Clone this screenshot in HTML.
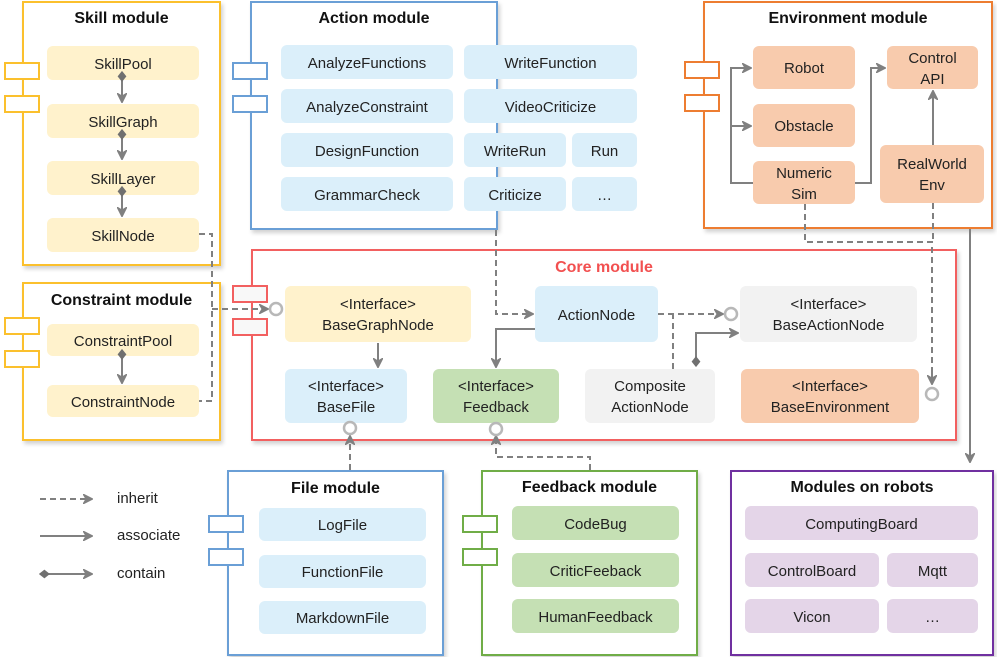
<!DOCTYPE html>
<html><head><meta charset="utf-8"><style>
body{margin:0;width:997px;height:657px;background:#fff;position:relative;overflow:hidden;font-family:"Liberation Sans",Arial,sans-serif;}
.m{position:absolute;background:#fff;border:2px solid;box-sizing:border-box;box-shadow:2px 3px 4px rgba(0,0,0,.18);}
.t{position:absolute;font-weight:bold;font-size:16px;text-align:center;color:#111;}
.n{position:absolute;border-radius:6px;display:flex;align-items:center;justify-content:center;text-align:center;font-size:15px;color:#222;line-height:21px;padding-top:2px;box-sizing:border-box;}
.p{position:absolute;width:36px;height:18px;background:#fff;border:2px solid;box-sizing:border-box;}
.y{background:#fff2cc}.b{background:#dbeffa}.o{background:#f8cbad}.g{background:#c5e0b4}.gr{background:#f2f2f2}.pu{background:#e4d5e8}
.lg{position:absolute;font-size:15px;color:#222}
svg{position:absolute;left:0;top:0}
</style></head><body>

<!-- Skill module -->
<div class="m" style="left:22px;top:1px;width:199px;height:265px;border-color:#fbc02d"></div>
<div class="t" style="left:22px;top:10px;width:199px">Skill module</div>
<div class="p" style="left:4px;top:62px;border-color:#fbc02d"></div>
<div class="p" style="left:4px;top:95px;border-color:#fbc02d"></div>
<div class="n y" style="left:47px;top:46px;width:152px;height:34px">SkillPool</div>
<div class="n y" style="left:47px;top:104px;width:152px;height:34px">SkillGraph</div>
<div class="n y" style="left:47px;top:161px;width:152px;height:34px">SkillLayer</div>
<div class="n y" style="left:47px;top:218px;width:152px;height:34px">SkillNode</div>

<!-- Constraint -->
<div class="m" style="left:22px;top:282px;width:199px;height:159px;border-color:#fbc02d"></div>
<div class="t" style="left:22px;top:292px;width:199px">Constraint module</div>
<div class="p" style="left:4px;top:317px;border-color:#fbc02d"></div>
<div class="p" style="left:4px;top:350px;border-color:#fbc02d"></div>
<div class="n y" style="left:47px;top:324px;width:152px;height:32px">ConstraintPool</div>
<div class="n y" style="left:47px;top:385px;width:152px;height:32px">ConstraintNode</div>

<!-- Action -->
<div class="m" style="left:250px;top:1px;width:248px;height:229px;border-color:#6a9fd6"></div>
<div class="t" style="left:250px;top:10px;width:248px">Action module</div>
<div class="p" style="left:232px;top:62px;border-color:#6a9fd6"></div>
<div class="p" style="left:232px;top:95px;border-color:#6a9fd6"></div>
<div class="n b" style="left:281px;top:45px;width:172px;height:34px">AnalyzeFunctions</div>
<div class="n b" style="left:281px;top:89px;width:172px;height:34px">AnalyzeConstraint</div>
<div class="n b" style="left:281px;top:133px;width:172px;height:34px">DesignFunction</div>
<div class="n b" style="left:281px;top:177px;width:172px;height:34px">GrammarCheck</div>
<div class="n b" style="left:464px;top:45px;width:173px;height:34px">WriteFunction</div>
<div class="n b" style="left:464px;top:89px;width:173px;height:34px">VideoCriticize</div>
<div class="n b" style="left:464px;top:133px;width:102px;height:34px">WriteRun</div>
<div class="n b" style="left:572px;top:133px;width:65px;height:34px">Run</div>
<div class="n b" style="left:464px;top:177px;width:102px;height:34px">Criticize</div>
<div class="n b" style="left:572px;top:177px;width:65px;height:34px">…</div>

<!-- Environment -->
<div class="m" style="left:703px;top:1px;width:290px;height:228px;border-color:#ed7d31"></div>
<div class="t" style="left:703px;top:10px;width:290px">Environment module</div>
<div class="p" style="left:684px;top:61px;border-color:#ed7d31"></div>
<div class="p" style="left:684px;top:94px;border-color:#ed7d31"></div>
<div class="n o" style="left:753px;top:46px;width:102px;height:43px">Robot</div>
<div class="n o" style="left:753px;top:104px;width:102px;height:43px">Obstacle</div>
<div class="n o" style="left:753px;top:161px;width:102px;height:43px">Numeric<br>Sim</div>
<div class="n o" style="left:887px;top:46px;width:91px;height:43px">Control<br>API</div>
<div class="n o" style="left:880px;top:145px;width:104px;height:58px">RealWorld<br>Env</div>

<!-- Core -->
<div class="m" style="left:251px;top:249px;width:706px;height:192px;border-color:#f26060"></div>
<div class="t" style="left:251px;top:259px;width:706px;color:#f25050">Core module</div>
<div class="p" style="left:232px;top:285px;border-color:#f26060;background:#f8f8f8"></div>
<div class="p" style="left:232px;top:318px;border-color:#f26060;background:#f8f8f8"></div>
<div class="n y" style="left:285px;top:286px;width:186px;height:56px">&lt;Interface&gt;<br>BaseGraphNode</div>
<div class="n b" style="left:285px;top:369px;width:122px;height:54px">&lt;Interface&gt;<br>BaseFile</div>
<div class="n g" style="left:433px;top:369px;width:126px;height:54px">&lt;Interface&gt;<br>Feedback</div>
<div class="n b" style="left:535px;top:286px;width:123px;height:56px">ActionNode</div>
<div class="n gr" style="left:740px;top:286px;width:177px;height:56px">&lt;Interface&gt;<br>BaseActionNode</div>
<div class="n gr" style="left:585px;top:369px;width:130px;height:54px">Composite<br>ActionNode</div>
<div class="n o" style="left:741px;top:369px;width:178px;height:54px">&lt;Interface&gt;<br>BaseEnvironment</div>

<!-- File -->
<div class="m" style="left:227px;top:470px;width:217px;height:186px;border-color:#6a9fd6"></div>
<div class="t" style="left:227px;top:480px;width:217px">File module</div>
<div class="p" style="left:208px;top:515px;border-color:#6a9fd6"></div>
<div class="p" style="left:208px;top:548px;border-color:#6a9fd6"></div>
<div class="n b" style="left:259px;top:508px;width:167px;height:33px">LogFile</div>
<div class="n b" style="left:259px;top:555px;width:167px;height:33px">FunctionFile</div>
<div class="n b" style="left:259px;top:601px;width:167px;height:33px">MarkdownFile</div>

<!-- Feedback -->
<div class="m" style="left:481px;top:470px;width:217px;height:186px;border-color:#70ad47"></div>
<div class="t" style="left:481px;top:479px;width:217px">Feedback module</div>
<div class="p" style="left:462px;top:515px;border-color:#70ad47"></div>
<div class="p" style="left:462px;top:548px;border-color:#70ad47"></div>
<div class="n g" style="left:512px;top:506px;width:167px;height:34px">CodeBug</div>
<div class="n g" style="left:512px;top:553px;width:167px;height:34px">CriticFeeback</div>
<div class="n g" style="left:512px;top:599px;width:167px;height:34px">HumanFeedback</div>

<!-- Robots -->
<div class="m" style="left:730px;top:470px;width:264px;height:186px;border-color:#7030a0"></div>
<div class="t" style="left:730px;top:479px;width:264px">Modules on robots</div>
<div class="n pu" style="left:745px;top:506px;width:233px;height:34px">ComputingBoard</div>
<div class="n pu" style="left:745px;top:553px;width:134px;height:34px">ControlBoard</div>
<div class="n pu" style="left:887px;top:553px;width:91px;height:34px">Mqtt</div>
<div class="n pu" style="left:745px;top:599px;width:134px;height:34px">Vicon</div>
<div class="n pu" style="left:887px;top:599px;width:91px;height:34px">…</div>

<div class="lg" style="left:117px;top:490px">inherit</div>
<div class="lg" style="left:117px;top:527px">associate</div>
<div class="lg" style="left:117px;top:565px">contain</div>

<svg width="997" height="657" viewBox="0 0 997 657">
<defs>
<marker id="a" viewBox="0 0 10 10" refX="9" refY="5" markerWidth="10" markerHeight="10" markerUnits="userSpaceOnUse" orient="auto"><path d="M0,0 L10,5 L0,10 L3,5z" fill="#808080" stroke="#808080" stroke-width="1"/></marker>
<marker id="d" viewBox="0 0 10 10" refX="1" refY="5" markerWidth="11" markerHeight="11" markerUnits="userSpaceOnUse" orient="auto"><path d="M0,5 L5,1 L10,5 L5,9z" fill="#707070"/></marker>
</defs>
<g stroke="#808080" stroke-width="2" fill="none">
<path d="M40,499 H92" stroke-dasharray="6,4" marker-end="url(#a)"/>
<path d="M40,536 H92" marker-end="url(#a)"/>
<path d="M40,574 H92" marker-start="url(#d)" marker-end="url(#a)"/>
<path d="M122,72 V102" marker-start="url(#d)" marker-end="url(#a)"/>
<path d="M122,130 V159" marker-start="url(#d)" marker-end="url(#a)"/>
<path d="M122,187 V216" marker-start="url(#d)" marker-end="url(#a)"/>
<path d="M122,350 V383" marker-start="url(#d)" marker-end="url(#a)"/>
<path d="M199,234 H212 V401 H199" stroke-dasharray="6,4"/>
<path d="M212,309 H268" stroke-dasharray="6,4" marker-end="url(#a)"/>
<path d="M378,343 V367" marker-end="url(#a)"/>
<path d="M496,230 V314 H533" stroke-dasharray="6,4" marker-end="url(#a)"/>
<path d="M535,329 H496 V367" marker-end="url(#a)"/>
<path d="M658,314 H723" stroke-dasharray="6,4" marker-end="url(#a)"/>
<path d="M673,369 V314" stroke-dasharray="6,4"/>
<path d="M696,366 V333 H738" marker-start="url(#d)" marker-end="url(#a)"/>
<path d="M753,183 H731 V68 H751" marker-end="url(#a)"/>
<path d="M731,126 H751" marker-end="url(#a)"/>
<path d="M855,183 H871 V68 H885" marker-end="url(#a)"/>
<path d="M933,145 V91" marker-end="url(#a)"/>
<path d="M805,204 V242 H932 V384" stroke-dasharray="6,4"/>
<path d="M932,370 V384" marker-end="url(#a)"/>
<path d="M933,203 V242" stroke-dasharray="6,4"/>
<path d="M970,229 V462" marker-end="url(#a)"/>
<path d="M350,470 V436" stroke-dasharray="6,4" marker-end="url(#a)"/>
<path d="M590,470 V457 H496 V436" stroke-dasharray="6,4" marker-end="url(#a)"/>
</g>
<g stroke="#b8b8b8" stroke-width="2.5" fill="#fff">
<circle cx="276" cy="309" r="6"/>
<circle cx="731" cy="314" r="6"/>
<circle cx="932" cy="394" r="6"/>
<circle cx="350" cy="428" r="6"/>
<circle cx="496" cy="429" r="6"/>
</g>
</svg>
</body></html>
